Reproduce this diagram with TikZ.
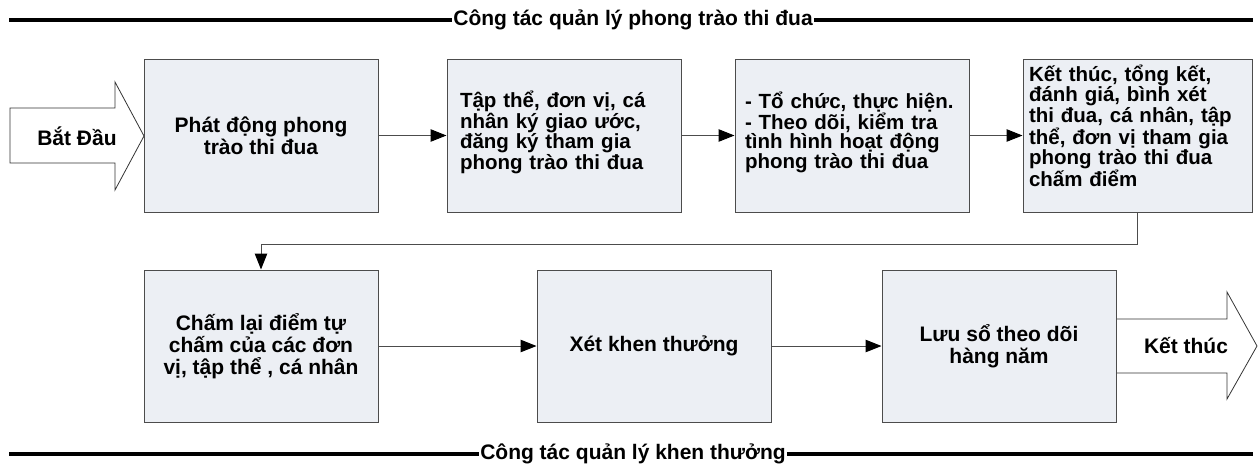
\documentclass[tikz,border=0pt]{standalone}
\usepackage{fontspec}
\setmainfont{Liberation Sans}
\usetikzlibrary{arrows.meta}
\definecolor{boxfill}{HTML}{ECEFF4}
\newcommand{\jline}[1]{\makebox[\linewidth][s]{#1}}
\begin{document}
\begin{tikzpicture}[x=1pt,y=-1pt,
  box/.style={draw=black!70, line width=1pt, fill=boxfill, minimum width=234pt,
    minimum height=153pt, inner sep=0pt, align=center,
    font=\fontsize{21}{22}\selectfont\bfseries},
  jtext/.style={inner sep=0pt, align=left, font=\fontsize{20.5}{18.5}\selectfont\bfseries},
  conn/.style={draw=black!70, line width=1pt, -{Triangle[length=16pt,width=12.5pt,color=black]}},
  rule/.style={line width=3.2pt, black},
  ruletext/.style={fill=white, inner sep=1pt, font=\fontsize{21}{24}\selectfont\bfseries},
  bigarrow/.style={draw=black!80, line width=0.8pt, fill=white},
  arrtext/.style={inner sep=0pt, font=\fontsize{21}{24}\selectfont\bfseries}
]
\useasboundingbox (0,0) rectangle (1260,467);

% header and footer rules
\node[ruletext] (top) at (633,20) {Công tác quản lý phong trào thi đua};
\draw[rule] (9,20) -- (top.west);
\draw[rule] (top.east) -- (1253,20);
\node[ruletext] (bot) at (633,454) {Công tác quản lý khen thưởng};
\draw[rule] (9,454) -- (bot.west);
\draw[rule] (bot.east) -- (1253,454);

% big start / end arrows
\draw[bigarrow] (10,108) -- (115,108) -- (115,82) -- (144,136) -- (115,190) -- (115,163) -- (10,163) -- cycle;
\draw[bigarrow] (1116,319) -- (1227,319) -- (1227,292) -- (1257,346) -- (1227,399) -- (1227,373) -- (1116,373);
\node[arrtext] (start) at (77,136) {Bắt Đầu};
\node[arrtext] (end) at (1186,346) {Kết thúc};

% row 1
\node[box] (b1) at (261,135.5) {Phát động phong\\trào thi đua};
\node[box] (b2) at (564,135.5) {};
\node[jtext, text width=208pt] (t2) at ([yshift=3pt]b2.center) {\jline{Tập thể, đơn vị, cá}\\\jline{nhân ký giao ước,}\\\jline{đăng ký tham gia}\\phong trào thi đua};
\node[box] (b3) at (852,135.5) {};
\node[jtext, text width=214pt] (t3) at ([yshift=3pt]b3.center) {\jline{- Tổ chức, thực hiện.}\\\jline{- Theo dõi, kiểm tra}\\\jline{tình hình hoạt động}\\phong trào thi đua};
\node[box, minimum width=229pt] (b4) at (1137.5,135.5) {};
\node[jtext, text width=217pt, anchor=north] (t4) at ([yshift=-6pt]b4.north)
  {\jline{Kết thúc, tổng kết,}\\\jline{đánh giá, bình xét}\\\jline{thi đua, cá nhân, tập}\\\jline{thể, đơn vị tham gia}\\\jline{phong trào thi đua}\\chấm điểm};

% row 2
\node[box, minimum height=152pt] (b5) at (261,346) {Chấm lại điểm tự\\chấm của các đơn\\vị, tập thể , cá nhân};
\node[box, minimum height=152pt] (b6) at (654,346) {Xét khen thưởng};
\node[box, minimum height=152pt] (b7) at (999,346) {Lưu sổ theo dõi\\hàng năm};

% connectors
\draw[conn] (b1.east) -- (b2.west);
\draw[conn] (b2.east) -- (b3.west);
\draw[conn] (b3.east) -- (b4.west);
\draw[conn] (b4.south) -- ++(0,32) -| (b5.north);
\draw[conn] (b5.east) -- (b6.west);
\draw[conn] (b6.east) -- (b7.west);
\end{tikzpicture}
\end{document}
